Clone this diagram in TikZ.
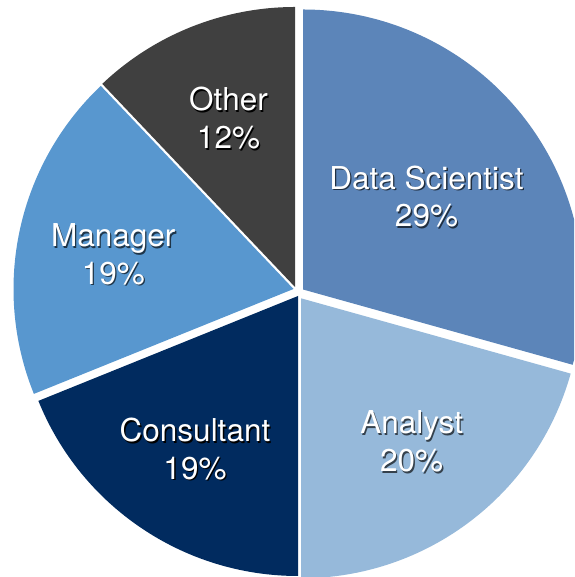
\documentclass[tikz,border=0pt]{standalone}
\usepackage{fontspec}
\setmainfont{TeX Gyre Heros}
\definecolor{dsblue}{RGB}{92,133,185}
\definecolor{anblue}{RGB}{150,185,218}
\definecolor{conavy}{RGB}{1,43,95}
\definecolor{mgblue}{RGB}{88,151,207}
\definecolor{otgray}{RGB}{64,64,64}
\newcommand\shd[2]{\leavevmode\rlap{\hspace{1.3pt}\raisebox{-1.6pt}{\textcolor{#1}{#2}}}\textcolor{white}{#2}}
\tikzset{
  lbl/.style={anchor=base, inner sep=0pt, font=\fontsize{31.5}{37.5}\selectfont},
}
\begin{document}
\begin{tikzpicture}[x=1pt,y=1pt]
\useasboundingbox (0,0) rectangle (574,577);
\clip (0,0) rectangle (574,577);
\def\R{280}
\coordinate (ds) at (303,287.5);
\coordinate (an) at (301,278.7);
\coordinate (co) at (298,281);
\coordinate (mg) at (293.5,288);
\coordinate (ot) at (295,290);
\fill[dsblue] (ds) -- ++(-15.6:\R) arc[start angle=-15.6, end angle=90, radius=\R] -- cycle;
\fill[anblue] (an) -- ++(-90:\R) arc[start angle=-90, end angle=-15.6, radius=\R] -- cycle;
\fill[conavy] (co) -- ++(202:\R) arc[start angle=202, end angle=270, radius=\R] -- cycle;
\fill[mgblue] (mg) -- ++(133.5:\R) arc[start angle=133.5, end angle=202, radius=\R] -- cycle;
\fill[otgray] (ot) -- ++(90:\R) arc[start angle=90, end angle=133.5, radius=\R] -- cycle;
\node[lbl] (dsl) at (426.5,387.7) {\begin{tabular}[t]{@{}c@{}}\shd{dsblue!35!black}{Data Scientist}\\\shd{dsblue!35!black}{29\%}\end{tabular}};
\node[lbl] (anl) at (411.7,143) {\begin{tabular}[t]{@{}c@{}}\shd{anblue!35!black}{Analyst}\\\shd{anblue!35!black}{20\%}\end{tabular}};
\node[lbl] (col) at (195,135.3) {\begin{tabular}[t]{@{}c@{}}\shd{black}{Consultant}\\\shd{black}{19\%}\end{tabular}};
\node[lbl] (mgl) at (113.3,330.3) {\begin{tabular}[t]{@{}c@{}}\shd{mgblue!35!black}{Manager}\\\shd{mgblue!35!black}{19\%}\end{tabular}};
\node[lbl] (otl) at (228.5,466) {\begin{tabular}[t]{@{}c@{}}\shd{black}{Other}\\\shd{black}{12\%}\end{tabular}};
\end{tikzpicture}
\end{document}
